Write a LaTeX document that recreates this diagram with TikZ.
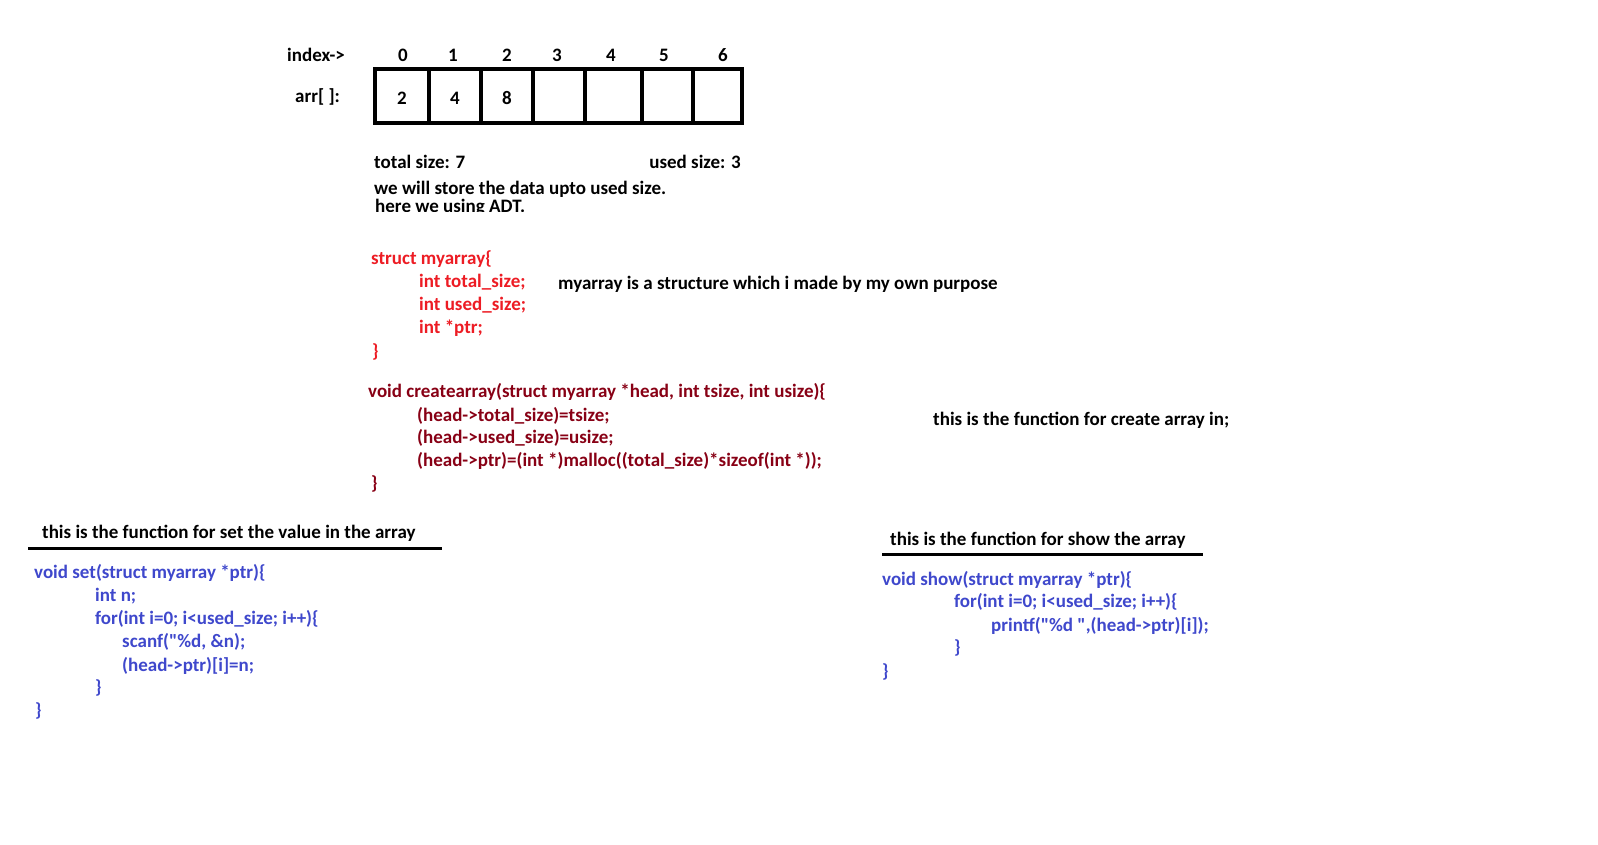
\documentclass[tikz,border=0pt]{standalone}
\usepackage{fontspec}
\setmainfont{Carlito}[Ligatures=TeXOff]
\usepackage{xcolor}
\definecolor{codered}{HTML}{ED1C24}
\definecolor{codedark}{HTML}{880015}
\definecolor{codeblue}{HTML}{3F48CC}
\usepackage{tikz}
\usetikzlibrary{positioning}
\tikzset{
  txt/.style={anchor=base west, inner sep=0pt, font=\bfseries\fontsize{19}{23}\selectfont},
  idx/.style={anchor=base, inner sep=0pt, font=\bfseries\fontsize{19}{23}\selectfont},
  cell/.style={draw, line width=4pt, inner sep=0pt, minimum height=54pt, text height=17pt,
    text depth=0pt, font=\bfseries\fontsize{19}{23}\selectfont},
  rule/.style={line width=3pt}
}

\begin{document}
\begin{tikzpicture}[x=1pt, y=-1pt]
    \useasboundingbox[fill=white] (0,0) rectangle (1598,845);
    % Index row
    \node[txt] (idxlab) at (287,62) {index->};
    \node[idx] (i0) at (403,62) {0};
    \node[idx] (i1) at (453,62) {1};
    \node[idx] (i2) at (507,62) {2};
    \node[idx] (i3) at (557,62) {3};
    \node[idx] (i4) at (611,62) {4};
    \node[idx] (i5) at (664,62) {5};
    \node[idx] (i6) at (723,62) {6};
    % Array cells
    \node[txt] (arrlab) at (295,103) {arr[ ]:};
    \node[cell, minimum width=54pt] (c0) at (402,96) {2};
    \node[cell, minimum width=52pt] (c1) at (455,96) {4};
    \node[cell, minimum width=52pt] (c2) at (507,96) {8};
    \node[cell, minimum width=52pt] (c3) at (559,96) {};
    \node[cell, minimum width=57pt] (c4) at (613.5,96) {};
    \node[cell, minimum width=51pt] (c5) at (667.5,96) {};
    \node[cell, minimum width=49pt] (c6) at (717.5,96) {};
    % Sizes
    \node[txt] (tsize) at (374,169) {total size: 7};
    \node[txt, anchor=base east] (usize) at (741,169) {used size: 3};
    \node[txt] (note1) at (374,195) {we will store the data upto used size.};
    \begin{scope}
      \clip (300,196) rectangle (800,212);
      \node[txt] (note2) at (375,212) {here we using ADT.};
    \end{scope}
    % Structure
    \node[txt, codered] (s0) at (371,264) {struct myarray\{};
    \node[txt, codered] (s1) at (419,287) {int total\_size;};
    \node[txt, codered] (s2) at (419,310) {int used\_size;};
    \node[txt, codered] (s3) at (419,333) {int *ptr;};
    \node[txt, codered] (s4) at (372,357) {\}};
    \node[txt] (snote) at (558,289) {myarray is a structure which i made by my own purpose};
    % Create function
    \node[txt, codedark] (f0) at (368,397) {void createarray(struct myarray *head, int tsize, int usize)\{};
    \node[txt, codedark] (f1) at (417,421) {(head->total\_size)=tsize;};
    \node[txt, codedark] (f2) at (417,443) {(head->used\_size)=usize;};
    \node[txt, codedark] (f3) at (417,466) {(head->ptr)=(int *)malloc((total\_size)*sizeof(int *));};
    \node[txt, codedark] (f4) at (371,489) {\}};
    \node[txt] (fnote) at (933,425) {this is the function for create array in;};
    % Set function
    \node[txt] (sethead) at (42,538) {this is the function for set the value in the array};
    \coordinate (setl) at (28,548);
    \coordinate (setr) at (442,548);
    \draw[rule] (setl) -- (setr);
    \node[txt, codeblue] (t0) at (34,578) {void set(struct myarray *ptr)\{};
    \node[txt, codeblue] (t1) at (95,601) {int n;};
    \node[txt, codeblue] (t2) at (95,624) {for(int i=0; i<used\_size; i++)\{};
    \node[txt, codeblue] (t3) at (122,647) {scanf("\%d, \&n);};
    \node[txt, codeblue] (t4) at (122,671) {(head->ptr)[i]=n;};
    \node[txt, codeblue] (t5) at (95,693) {\}};
    \node[txt, codeblue] (t6) at (35,716) {\}};
    % Show function
    \node[txt] (showhead) at (890,545) {this is the function for show the array};
    \coordinate (showl) at (882,554);
    \coordinate (showr) at (1203,554);
    \draw[rule] (showl) -- (showr);
    \node[txt, codeblue] (w0) at (882,585) {void show(struct myarray *ptr)\{};
    \node[txt, codeblue] (w1) at (954,607) {for(int i=0; i<used\_size; i++)\{};
    \node[txt, codeblue] (w2) at (991,631) {printf("\%d ",(head->ptr)[i]);};
    \node[txt, codeblue] (w3) at (954,653) {\}};
    \node[txt, codeblue] (w4) at (882,677) {\}};
  \end{tikzpicture}
\end{document}
